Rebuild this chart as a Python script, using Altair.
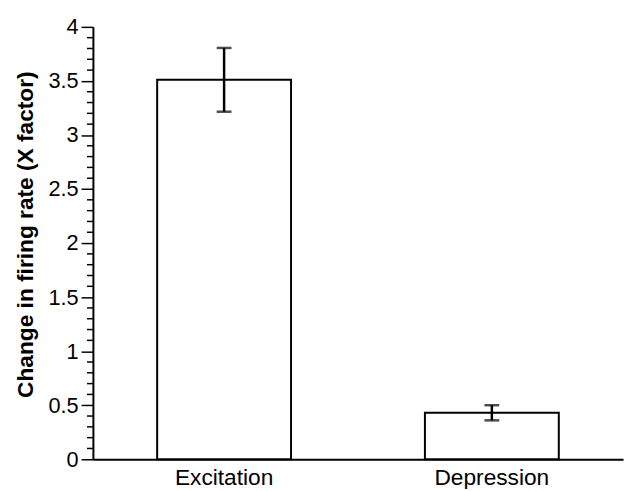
import altair as alt
import pandas as pd

categories = ["Excitation", "Depression"]
means = [3.51, 0.43]
errors = [0.295, 0.07]
major_ticks = [0, 0.5, 1, 1.5, 2, 2.5, 3, 3.5, 4]
minor_ticks = [0.1, 0.2, 0.3, 0.4, 0.6, 0.7, 0.8, 0.9, 1.1, 1.2, 1.3, 1.4,
               1.6, 1.7, 1.8, 1.9, 2.1, 2.2, 2.3, 2.4, 2.6, 2.7, 2.8, 2.9,
               3.1, 3.2, 3.3, 3.4, 3.6, 3.7, 3.8, 3.9]

df = pd.DataFrame({
    "cat": categories,
    "mean": means,
    "lo": [m - e for m, e in zip(means, errors)],
    "hi": [m + e for m, e in zip(means, errors)],
})
minor_df = pd.DataFrame({"mean": minor_ticks})

FONT = "Liberation Sans"
yscale = alt.Scale(domain=[0, 4], nice=False, zero=True)
yaxis = alt.Axis(
    title="Change in firing rate (X factor)",
    values=major_ticks,
    labelExpr="'' + datum.value",
    grid=False,
    tickSize=12, tickWidth=1.5, tickColor="black",
    domainColor="black", domainWidth=2,
    labelPadding=3, labelFont=FONT, labelFontSize=22, labelColor="black",
    titleFont=FONT, titleFontSize=23, titleFontWeight="bold", titleColor="black",
    titleAngle=270, titleAlign="center", titleBaseline="alphabetic",
    titleX=-61, titleY=210,
)
xenc = alt.X(
    "cat:N", sort=categories,
    scale=alt.Scale(paddingInner=0.5, paddingOuter=0.24),
    axis=alt.Axis(
        title=None, labelAngle=0, ticks=False, tickSize=0,
        labelPadding=26, labelBaseline="alphabetic",
        labelFont=FONT, labelFontSize=23, labelColor="black",
        domainColor="black", domainWidth=2, grid=False,
    ),
)

bars = alt.Chart(df).mark_bar(fill="white", stroke="black", strokeWidth=2).encode(
    x=xenc, y=alt.Y("mean:Q", scale=yscale, axis=yaxis)
)
err = alt.Chart(df).mark_rule(color="black", strokeWidth=2.5).encode(
    x=xenc, y=alt.Y("lo:Q", scale=yscale, axis=yaxis), y2="hi:Q"
)
cap_hi = alt.Chart(df).mark_tick(color="black", thickness=2.5, size=15, orient="horizontal").encode(
    x=xenc, y=alt.Y("hi:Q", scale=yscale, axis=yaxis)
)
cap_lo = alt.Chart(df).mark_tick(color="black", thickness=2.5, size=15, orient="horizontal").encode(
    x=xenc, y=alt.Y("lo:Q", scale=yscale, axis=yaxis)
)
minor = alt.Chart(minor_df).mark_rule(color="black", strokeWidth=1.5).encode(
    y=alt.Y("mean:Q", scale=yscale, axis=yaxis),
    x=alt.value(-6), x2=alt.value(0),
)

chart = alt.layer(bars, err, cap_hi, cap_lo, minor).properties(
    width=537, height=438,
    autosize=alt.AutoSizeParams(type="none"),
    padding={"left": 86, "top": 16, "right": 4, "bottom": 27},
    background="white",
).configure_view(stroke=None)

chart.save("out.html", embed_options={"renderer": "svg", "actions": False})
